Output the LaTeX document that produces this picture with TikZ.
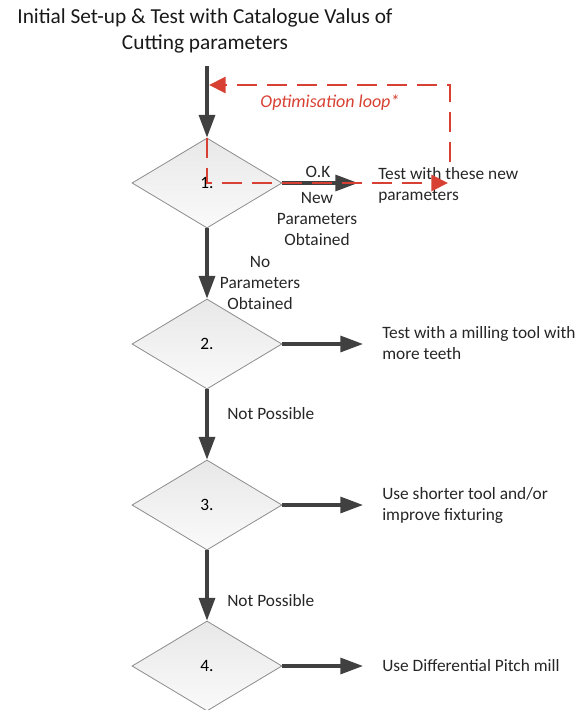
\documentclass[tikz,border=0pt]{standalone}
\usepackage{fontspec}
\setmainfont{Carlito}
\usetikzlibrary{arrows.meta,shapes.geometric}
\definecolor{arrowgray}{RGB}{64,64,64}
\definecolor{loopred}{RGB}{215,64,50}
\definecolor{edgegray}{RGB}{140,140,140}
\tikzset{
  decbox/.style={diamond, draw=edgegray, line width=0.6pt, top color=black!9, bottom color=black!2,
    minimum width=112.5pt, minimum height=67.5pt, aspect=1.667, inner sep=0pt,
    font=\fontsize{13}{15.75}\selectfont},
  flow/.style={draw=arrowgray, line width=2.4pt, -{Triangle[length=17pt,width=12pt]}},
  loopline/.style={draw=loopred, line width=2.2pt, dash pattern=on 15pt off 7.5pt,
    -{Triangle[length=12.5pt,width=12pt]}},
  lbl/.style={font=\fontsize{13}{15.75}\selectfont, inner sep=0pt, text=black!85},
}
\begin{document}
\begin{tikzpicture}[x=0.75pt,y=-0.75pt]
\useasboundingbox (0,0) rectangle (579,710);
% title
\node[font=\fontsize{16}{19.5}\selectfont, align=center, inner sep=0pt, text=black!90] (title) at (205,31)
  {Initial Set-up \& Test with Catalogue Valus of\\Cutting parameters};
\coordinate (start) at (207,66);
% decisions
\node[decbox] (d1) at (207,183) {1.};
\node[decbox] (d2) at (207,344) {2.};
\node[decbox] (d3) at (207,505) {3.};
\node[decbox] (d4) at (207,666) {4.};
% outcomes
\node[lbl, align=left, anchor=west] (t1) at (378,185.5) {Test with these new\\parameters};
\node[lbl, align=left, anchor=west] (t2) at (382,343.5) {Test with a milling tool with\\more teeth};
\node[lbl, align=left, anchor=west] (t3) at (382,505) {Use shorter tool and/or\\improve fixturing};
\node[lbl, align=left, anchor=west] (t4) at (382,666) {Use Differential Pitch mill};
\coordinate (e1) at (358,183);
\coordinate (e2) at (363,344);
\coordinate (e3) at (363,505);
\coordinate (e4) at (363,666);
% vertical flow
\draw[flow] (start) -- (d1.north);
\draw[flow] (d1.south) -- (d2.north);
\draw[flow] (d2.south) -- (d3.north);
\draw[flow] (d3.south) -- (d4.north);
% horizontal flow
\draw[flow] (d1.east) -- (e1);
\draw[flow] (d2.east) -- (e2);
\draw[flow] (d3.east) -- (e3);
\draw[flow] (d4.east) -- (e4);
% labels
\node[lbl] (ok) at (318,172) {O.K};
\node[lbl, align=center] (newp) at (317,219) {New\\Parameters\\Obtained};
\node[lbl, align=center] (nop) at (260,283) {No\\Parameters\\Obtained};
\node[lbl, anchor=west] (np1) at (227,414) {Not Possible};
\node[lbl, anchor=west] (np2) at (227,601) {Not Possible};
% optimisation loop
\coordinate (lr) at (448,183);
\coordinate (rb) at (450,162);
\coordinate (rt) at (450,85);
\coordinate (lj) at (209,85);
\draw[loopline] (d1.north) -- (d1.center) -- (lr);
\draw[loopline] (rb) -- (rt) -- (lj);
\node[font=\fontsize{13.5}{15}\selectfont\itshape, text=loopred, inner sep=0pt] (optl) at (330,103) {Optimisation loop*};
\end{tikzpicture}
\end{document}
